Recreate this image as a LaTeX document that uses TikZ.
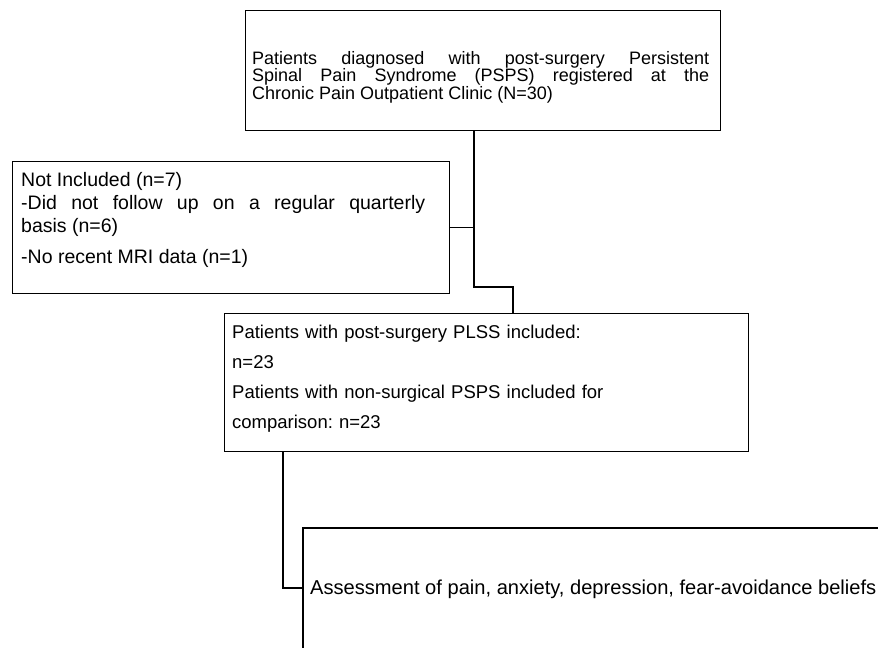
\documentclass[tikz,border=0pt]{standalone}
\usepackage{fontspec}
\setmainfont{Liberation Sans}
\frenchspacing
\begin{document}
\begin{tikzpicture}[x=1pt,y=-1pt,
  box/.style={draw, line width=1.4pt, rectangle, inner sep=0pt, anchor=north west},
  conn/.style={line width=1.4pt},
  txt/.style={anchor=base west, inner sep=0pt}]
\useasboundingbox (0,0) rectangle (878,648);

% boxes
\node[box, minimum width=475pt, minimum height=120pt] (top) at (245,10) {};
\node[box, minimum width=437pt, minimum height=132pt] (excl) at (12,161) {};
\node[box, minimum width=524pt, minimum height=138pt] (pat) at (224,313) {};
\coordinate (asmcorner) at (303,528);
\coordinate (asmjoin) at (303,588);
\draw[conn] (878,528) -- (asmcorner) -- (303,648);

% texts
\node[txt, text width=457pt, align=justify, font=\fontsize{18}{15.5}\selectfont] (ttop) at (252,64)
  {Patients diagnosed with post-surgery Persistent\linebreak Spinal Pain Syndrome (PSPS) registered at the\linebreak Chronic Pain Outpatient Clinic (N=30)};

\node[txt, text width=404pt, align=justify, font=\fontsize{19.5}{23}\selectfont] (texcl) at (21,186)
  {Not Included (n=7)\\ -Did not follow up on a regular quarterly\linebreak basis (n=6)\\[8pt] -No recent MRI data (n=1)};

\node[txt, text width=500pt, align=left, font=\fontsize{18.5}{30}\selectfont] (tpat) at (232,338)
  {Patients with post-surgery PLSS included:\\ n=23\\ Patients with non-surgical PSPS included for\\ comparison: n=23};

\node[txt, font=\fontsize{20.1}{24}\selectfont] (asm) at (310,594) {Assessment of pain, anxiety, depression, fear-avoidance beliefs};

% connectors
\coordinate (a1) at (474,287);
\coordinate (a2) at (513,287);
\draw[conn] (top.south -| a1) -- (a1) -- (a2) -- (a2 |- pat.north);
\draw[conn] (excl.east) -- (excl.east -| a1);
\coordinate (b1) at (283,588);
\draw[conn] (b1 |- pat.south) -- (b1) -- (asmjoin);
\end{tikzpicture}
\end{document}
